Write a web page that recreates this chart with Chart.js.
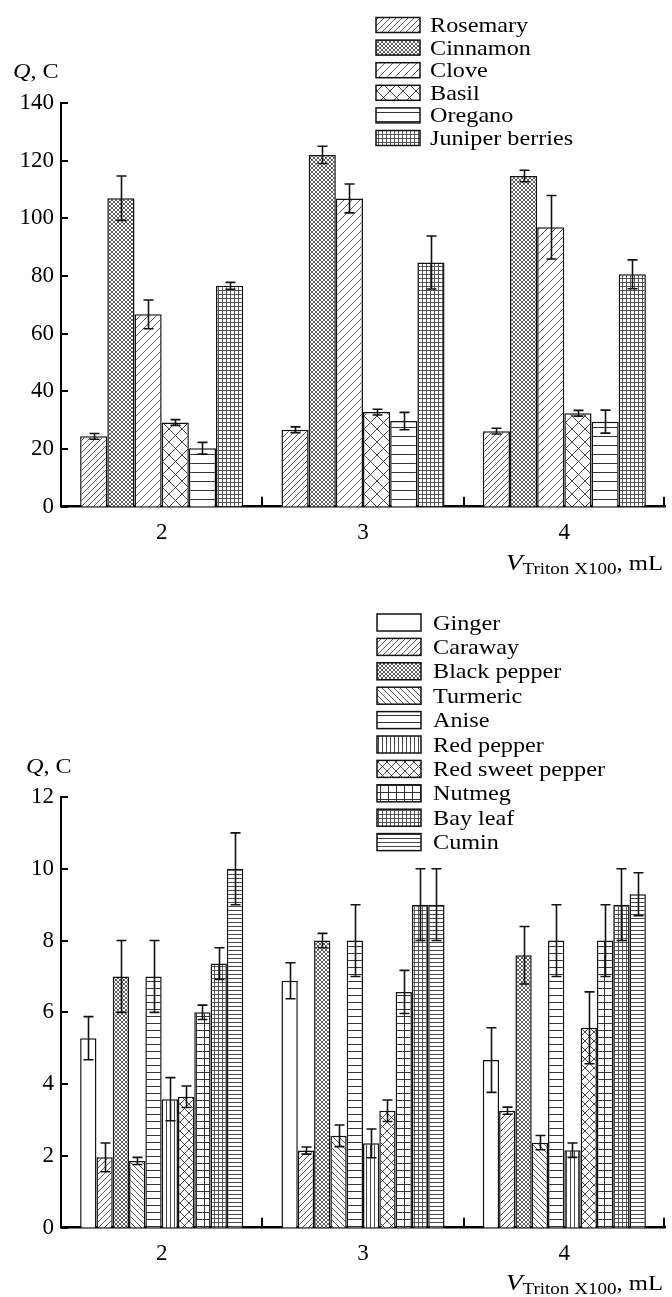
<!DOCTYPE html>
<html>
<head>
<meta charset="utf-8">
<script src="https://cdn.jsdelivr.net/npm/chart.js@4"></script>
<style>
html, body { margin: 0; padding: 0; background: #fff; }
#top { position: absolute; left: 0; top: 0; }
#bottom { position: absolute; left: 0; top: 600px; }
</style>
</head>
<body>
<canvas id="top" width="672" height="600"></canvas>
<canvas id="bottom" width="672" height="697"></canvas>
<script>
// x categories (Triton X100 volume, mL)
const volumes = ['2', '3', '4'];

// top chart: Q, C
const spicesTop = ['Rosemary', 'Cinnamon', 'Clove', 'Basil', 'Oregano', 'Juniper berries'];
const rosemary = [24.4, 26.7, 26.2];
const rosemaryErr = [1, 1, 1];
const cinnamon = [107, 122, 114.7];
const cinnamonErr = [7.7, 3, 2];
const clove = [66.7, 106.9, 96.9];
const cloveErr = [5, 5, 11];
const basil = [29.2, 32.8, 32.4];
const basilErr = [1, 1, 1];
const oregano = [20.3, 29.7, 29.5];
const oreganoErr = [2, 3, 4];
const juniper = [76.6, 84.7, 80.6];
const juniperErr = [1.2, 9.2, 5];
const ticksTop = { max: 140, step: 20 };

// bottom chart: Q, C
const spicesBottom = ['Ginger', 'Caraway', 'Black pepper', 'Turmeric', 'Anise', 'Red pepper',
  'Red sweet pepper', 'Nutmeg', 'Bay leaf', 'Cumin'];
const ginger = [5.28, 6.88, 4.67];
const gingerErr = [0.6, 0.5, 0.9];
const caraway = [1.96, 2.15, 3.26];
const carawayErr = [0.4, 0.1, 0.1];
const blackPepper = [7.0, 8.0, 7.59];
const blackPepperErr = [1, 0.2, 0.8];
const turmeric = [1.86, 2.56, 2.37];
const turmericErr = [0.1, 0.3, 0.2];
const anise = [7.0, 8.0, 8.0];
const aniseErr = [1, 1, 1];
const redPepper = [3.58, 2.35, 2.16];
const redPepperErr = [0.6, 0.4, 0.2];
const redSweetPepper = [3.65, 3.26, 5.57];
const redSweetPepperErr = [0.3, 0.3, 1];
const nutmeg = [6.0, 6.57, 8.0];
const nutmegErr = [0.2, 0.6, 1];
const bayLeaf = [7.36, 9.0, 9.0];
const bayLeafErr = [0.44, 1, 1];
const cumin = [10.0, 9.0, 9.29];
const cuminErr = [1, 1, 0.6];
const ticksBottom = { max: 12, step: 2 };

const SERIF = '"Liberation Serif", "Times New Roman", serif';
const scratch = document.createElement('canvas').getContext('2d');

// hatch patterns
function hatch(w, h, draw, lw) {
    const c = document.createElement('canvas');
    c.width = w; c.height = h;
    const g = c.getContext('2d');
    g.fillStyle = '#fff';
    g.fillRect(0, 0, w, h);
    if (draw) {
        g.strokeStyle = '#333';
        g.lineWidth = lw || 1;
        g.beginPath();
        draw(g, w, h);
        g.stroke();
    }
    return scratch.createPattern(c, 'repeat');
}
const fwd = (g, w, h) => { for (let k = -1; k <= 1; k++) { g.moveTo(k * w, h); g.lineTo(k * w + w, 0); } };
const back = (g, w, h) => { for (let k = -1; k <= 1; k++) { g.moveTo(k * w, 0); g.lineTo(k * w + w, h); } };
const cross = (g, w, h) => { fwd(g, w, h); back(g, w, h); };
const horiz = (g, w, h) => { g.moveTo(0, Math.floor(h / 2) + 0.5); g.lineTo(w, Math.floor(h / 2) + 0.5); };
const vert = (g, w, h) => { g.moveTo(Math.floor(w / 2) + 0.5, 0); g.lineTo(Math.floor(w / 2) + 0.5, h); };
const grid = (g, w, h) => { horiz(g, w, h); vert(g, w, h); };

function ds(label, data, errors, fill) {
    return {
        label, data, errors,
        backgroundColor: fill,
        borderColor: '#111',
        borderWidth: 1.5,
        categoryPercentage: 0.81,
        barPercentage: 1.0
    };
}

const errorBars = {
    id: 'errorBars',
    afterDatasetsDraw(chart) {
        const ctx = chart.ctx;
        const y = chart.scales.y;
        ctx.save();
        ctx.strokeStyle = '#111';
        ctx.lineWidth = 1.6;
        chart.data.datasets.forEach((d, i) => {
            chart.getDatasetMeta(i).data.forEach((bar, j) => {
                const hi = y.getPixelForValue(d.data[j] + d.errors[j]);
                const lo = y.getPixelForValue(d.data[j] - d.errors[j]);
                const x = Math.round(bar.x) + 0.5;
                ctx.beginPath();
                ctx.moveTo(x, hi); ctx.lineTo(x, lo);
                ctx.moveTo(x - 5, hi); ctx.lineTo(x + 5, hi);
                ctx.moveTo(x - 5, lo); ctx.lineTo(x + 5, lo);
                ctx.stroke();
            });
        });
        ctx.restore();
    }
};

function drawParts(ctx, parts, x, baseline, align, sx) {
    let total = 0;
    parts.forEach(p => { ctx.font = p.font; p.w = ctx.measureText(p.text).width; total += p.w; });
    const start = align === 'right' ? x - total * sx : x;
    ctx.save();
    ctx.translate(start, baseline);
    ctx.scale(sx, 1);
    ctx.fillStyle = '#000';
    ctx.textBaseline = 'alphabetic';
    let cx = 0;
    parts.forEach(p => {
        ctx.font = p.font;
        ctx.fillText(p.text, cx, p.dy || 0);
        cx += p.w;
    });
    ctx.restore();
}

const decor = {
    id: 'decor',
    afterDraw(chart, args, o) {
        const ctx = chart.ctx;
        const xs = chart.scales.x, ys = chart.scales.y;
        const area = chart.chartArea;
        ctx.save();
        ctx.strokeStyle = '#000';
        ctx.lineWidth = 2;
        // inward ticks on y axis
        ctx.beginPath();
        ys.ticks.forEach(t => {
            const py = Math.round(ys.getPixelForValue(t.value));
            ctx.moveTo(area.left, py); ctx.lineTo(area.left + 7, py);
        });
        // inward ticks at category boundaries
        for (let i = 0; i < volumes.length; i++) {
            const px = i < volumes.length - 1
                ? Math.round((xs.getPixelForValue(i) + xs.getPixelForValue(i + 1)) / 2)
                : area.right - 1;
            ctx.moveTo(px, area.bottom); ctx.lineTo(px, area.bottom - 10);
        }
        ctx.stroke();
        ctx.restore();

        // y title
        drawParts(ctx, [
            { text: 'Q', font: 'italic 22px ' + SERIF },
            { text: ', C', font: '22px ' + SERIF }
        ], o.qX, o.qY, 'left', 1.1);

        // x title
        drawParts(ctx, [
            { text: 'V', font: 'italic 24px ' + SERIF },
            { text: 'Triton X100', font: '17px ' + SERIF, dy: 4 },
            { text: ', mL', font: '22px ' + SERIF }
        ], area.right - 2, o.titleY, 'right', 1.12);

        // legend
        chart.data.datasets.forEach((d, i) => {
            const cy = o.legY + i * o.legStep;
            ctx.save();
            ctx.fillStyle = d.backgroundColor;
            ctx.fillRect(o.legX, cy - o.boxH / 2, o.boxW, o.boxH);
            ctx.strokeStyle = '#111';
            ctx.lineWidth = 1.5;
            ctx.strokeRect(o.legX, cy - o.boxH / 2, o.boxW, o.boxH);
            ctx.restore();
            drawParts(ctx, [{ text: d.label, font: '22px ' + SERIF }], o.textX, cy + 7, 'left', 1.1);
        });
    }
};

function makeChart(id, datasets, ticks, padTop, xHeight, decorOpts) {
    return new Chart(document.getElementById(id).getContext('2d'), {
        type: 'bar',
        data: { labels: volumes, datasets },
        options: {
            responsive: false,
            animation: false,
            layout: { padding: { top: padTop, right: 7, left: 0, bottom: 0 } },
            plugins: {
                legend: { display: false },
                tooltip: { enabled: false },
                decor: decorOpts
            },
            scales: {
                x: {
                    offset: true,
                    grid: { display: false, drawTicks: false },
                    border: { display: true, color: '#000', width: 2.5 },
                    ticks: { color: '#000', font: { family: SERIF, size: 23 }, padding: 12 },
                    afterFit(s) { s.height = xHeight; }
                },
                y: {
                    min: 0,
                    max: ticks.max,
                    grid: { display: false, drawTicks: false },
                    border: { display: true, color: '#000', width: 2 },
                    ticks: { stepSize: ticks.step, color: '#000', font: { family: SERIF, size: 23 }, padding: 7 },
                    afterFit(s) { s.width = 61; }
                }
            }
        },
        plugins: [errorBars, decor]
    });
}

makeChart('top', [
    ds(spicesTop[0], rosemary, rosemaryErr, hatch(6, 6, fwd, 0.8)),
    ds(spicesTop[1], cinnamon, cinnamonErr, hatch(4, 4, cross, 0.8)),
    ds(spicesTop[2], clove, cloveErr, hatch(8, 8, fwd, 0.8)),
    ds(spicesTop[3], basil, basilErr, hatch(13, 13, cross, 0.9)),
    ds(spicesTop[4], oregano, oreganoErr, hatch(9, 9, horiz, 1)),
    ds(spicesTop[5], juniper, juniperErr, hatch(4, 4, grid, 0.8))
], ticksTop, 103, 93.3, {
    qX: 13, qY: 78, titleY: 570,
    legX: 376, legY: 25, legStep: 22.6, boxW: 44, boxH: 15, textX: 430
});

makeChart('bottom', [
    ds(spicesBottom[0], ginger, gingerErr, hatch(4, 4, null)),
    ds(spicesBottom[1], caraway, carawayErr, hatch(6, 6, fwd, 0.8)),
    ds(spicesBottom[2], blackPepper, blackPepperErr, hatch(4, 4, cross, 0.8)),
    ds(spicesBottom[3], turmeric, turmericErr, hatch(6, 6, back, 0.8)),
    ds(spicesBottom[4], anise, aniseErr, hatch(7, 7, horiz, 1)),
    ds(spicesBottom[5], redPepper, redPepperErr, hatch(4, 4, vert, 0.9)),
    ds(spicesBottom[6], redSweetPepper, redSweetPepperErr, hatch(9, 9, cross, 0.9)),
    ds(spicesBottom[7], nutmeg, nutmegErr, hatch(8, 7, grid, 1)),
    ds(spicesBottom[8], bayLeaf, bayLeafErr, hatch(4, 4, grid, 0.8)),
    ds(spicesBottom[9], cumin, cuminErr, hatch(4, 4, horiz, 0.9))
], ticksBottom, 197, 69.3, {
    qX: 26, qY: 173, titleY: 690,
    legX: 377, legY: 22.5, legStep: 24.4, boxW: 44, boxH: 17, textX: 433
});
</script>
</body>
</html>
